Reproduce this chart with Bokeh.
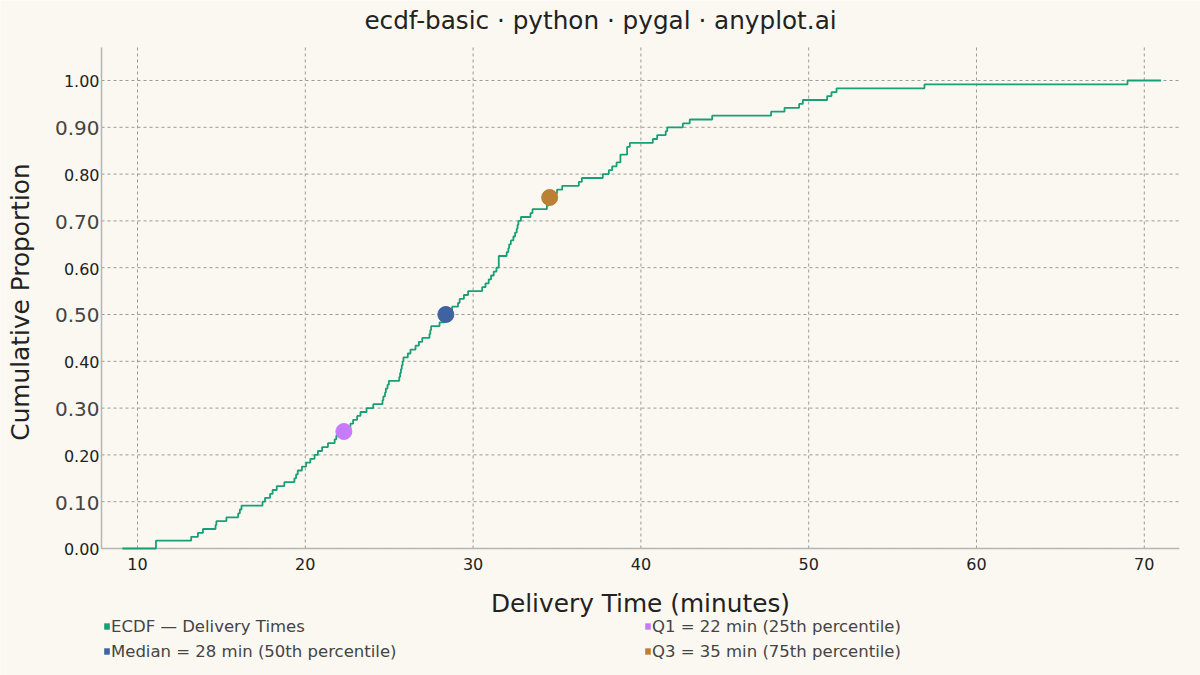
from bokeh.plotting import figure
from bokeh.models import Range1d, Legend, LegendItem
from bokeh.core.properties import value
from bokeh.embed import file_html
from bokeh.resources import INLINE
import numpy as np

# Delivery times in minutes (sorted)
delivery_times = [
    11.1, 11.1, 13.2, 13.6, 13.9, 14.65, 14.7, 15.3, 16.0, 16.1,
    16.2, 17.45, 17.6, 17.9, 18.05, 18.3, 18.75, 19.35, 19.45, 19.55,
    19.8, 20.05, 20.3, 20.55, 20.75, 21.0, 21.35, 21.75, 21.85, 22.15,
    22.35, 22.69, 22.85, 23.09, 23.29, 23.65, 24.05, 24.6, 24.65, 24.75,
    24.8, 24.9, 24.98, 25.6, 25.65, 25.7, 25.75, 25.8, 25.85, 26.11,
    26.27, 26.57, 26.77, 26.97, 27.4, 27.45, 27.5, 28.0, 28.3, 28.35,
    28.4, 28.75, 29.1, 29.2, 29.45, 29.7, 30.54, 30.74, 30.93, 31.07,
    31.23, 31.39, 31.53, 31.53, 31.53, 32.0, 32.1, 32.15, 32.25, 32.4,
    32.5, 32.6, 32.65, 32.7, 32.85, 33.42, 33.54, 34.4, 34.5, 34.55,
    34.6, 35.0, 35.31, 36.3, 36.48, 37.73, 38.09, 38.29, 38.55, 38.78,
    38.78, 39.18, 39.18, 39.34, 40.71, 40.97, 41.48, 41.57, 42.5, 42.91,
    44.25, 47.76, 48.56, 49.43, 49.65, 51.1, 51.36, 51.66, 56.9, 69.0,
]

x_ticks = [10, 20, 30, 40, 50, 60, 70]
x_tick_labels = ["10", "20", "30", "40", "50", "60", "70"]
y_ticks = [0.0, 0.1, 0.2, 0.3, 0.4, 0.5, 0.6, 0.7, 0.8, 0.9, 1.0]
y_tick_labels = ["0.00", "0.10", "0.20", "0.30", "0.40", "0.50",
                 "0.60", "0.70", "0.80", "0.90", "1.00"]
y_major = [False, True, False, True, False, True, False, True, False, True, False]

TITLE = "ecdf-basic · python · pygal · anyplot.ai"
X_LABEL = "Delivery Time (minutes)"
Y_LABEL = "Cumulative Proportion"

FONT = "DejaVu Sans"
BG = "#FAF8F1"
C_ECDF = "#17A077"
C_Q1 = "#C77BFB"
C_MED = "#3F62A1"
C_Q3 = "#BC8035"
GRID = "#9a9a9a"
AXIS = "#b5b5b5"
INK = "#222222"

# the frame covers the whole canvas; the pygal-like plot box sits inside it
X_LO, X_HI = 7.855, 72.09      # plot box in data units
Y_LO, Y_HI = 0.0, 1.0705

# ECDF step coordinates
data = np.sort(np.array(delivery_times))
n = len(data)
xs = np.concatenate([[data[0] - 2], data, [data[-1] + 2]])
ys = np.concatenate([[0.0], np.arange(1, n + 1) / n, [1.0]])

q1, med, q3 = np.percentile(data, [25, 50, 75])

x_range = Range1d(1.8355, 73.35)
y_range = Range1d(-0.27137, 1.17094)
p = figure(width=1200, height=675, output_backend="svg", toolbar_location=None,
           x_range=x_range, y_range=y_range, min_border=0)
p.background_fill_color = BG
p.border_fill_color = BG
p.outline_line_color = None
p.axis.visible = False
p.grid.visible = False

# grid lines
nx, ny = len(x_ticks), len(y_ticks)
p.segment(x0=x_ticks, x1=x_ticks, y0=[Y_LO] * nx, y1=[Y_HI] * nx,
          line_color=GRID, line_dash="3 3", line_width=1)
p.segment(x0=[X_LO] * ny, x1=[X_HI] * ny, y0=y_ticks, y1=y_ticks,
          line_color=GRID, line_dash="3 3", line_width=1)

# spines
p.segment(x0=[X_LO, X_LO], x1=[X_LO, X_HI], y0=[Y_LO, Y_LO], y1=[Y_HI, Y_LO],
          line_color=AXIS, line_width=1.5)

# tick labels
p.text(x=x_ticks, y=[Y_LO] * nx, text=x_tick_labels, y_offset=16,
       text_align="center", text_baseline="middle", text_font=value(FONT),
       text_font_size="16px", text_color=INK)
maj_y = [t for t, m in zip(y_ticks, y_major) if m]
maj_l = [l for l, m in zip(y_tick_labels, y_major) if m]
min_y = [t for t, m in zip(y_ticks, y_major) if not m]
min_l = [l for l, m in zip(y_tick_labels, y_major) if not m]
p.text(x=[X_LO] * len(maj_y), y=maj_y, text=maj_l, x_offset=-2, y_offset=1,
       text_align="right", text_baseline="middle", text_font=value(FONT),
       text_font_size="20px", text_color="#444444")
p.text(x=[X_LO] * len(min_y), y=min_y, text=min_l, x_offset=-2, y_offset=1,
       text_align="right", text_baseline="middle", text_font=value(FONT),
       text_font_size="16px", text_color=INK)

# titles
p.text(x=[(x_range.start + x_range.end) / 2], y=[Y_HI], text=[TITLE], y_offset=-27,
       text_align="center", text_baseline="middle", text_font=value(FONT),
       text_font_size="24.7px", text_color=INK)
p.text(x=[(X_LO + X_HI) / 2], y=[Y_LO], text=[X_LABEL], y_offset=55,
       text_align="center", text_baseline="middle", text_font=value(FONT),
       text_font_size="24.8px", text_color=INK)
p.text(x=[X_LO], y=[(Y_LO + Y_HI) / 2], text=[Y_LABEL], x_offset=-81, y_offset=4,
       angle=np.pi / 2, text_align="center", text_baseline="middle",
       text_font=value(FONT), text_font_size="24.8px", text_color=INK)

# ECDF line and quartile markers
p.step(xs, ys, mode="after", line_color=C_ECDF, line_width=1.8)
p.scatter([q1], [0.25], size=16, fill_color=C_Q1, line_color=C_Q1)
p.scatter([med], [0.5], size=16, fill_color=C_MED, line_color=C_MED)
p.scatter([q3], [0.75], size=16, fill_color=C_Q3, line_color=C_Q3)

# legend swatches: zero-size quads (invisible in the plot) so the legend shows squares
sw_ecdf = p.quad(left=[data[0]], right=[data[0]], top=[0.0], bottom=[0.0],
                 fill_color=C_ECDF, line_color=None)
sw_q1 = p.quad(left=[q1], right=[q1], top=[0.25], bottom=[0.25],
               fill_color=C_Q1, line_color=None)
sw_med = p.quad(left=[med], right=[med], top=[0.5], bottom=[0.5],
                fill_color=C_MED, line_color=None)
sw_q3 = p.quad(left=[q3], right=[q3], top=[0.75], bottom=[0.75],
               fill_color=C_Q3, line_color=None)
items = [
    LegendItem(label="ECDF — Delivery Times", renderers=[sw_ecdf]),
    LegendItem(label=f"Q1 = {q1:.0f} min (25th percentile)", renderers=[sw_q1]),
    LegendItem(label=f"Median = {med:.0f} min (50th percentile)", renderers=[sw_med]),
    LegendItem(label=f"Q3 = {q3:.0f} min (75th percentile)", renderers=[sw_q3]),
]
legend = Legend(items=items, location=(103, 14), orientation="horizontal", ncols=2,
                glyph_width=7, glyph_height=8, label_standoff=1, label_width=528,
                label_height=20, spacing=5, padding=0, margin=0,
                border_line_color=None, background_fill_alpha=0,
                label_text_font=FONT, label_text_font_size="16.5px",
                label_text_color="#444444")
p.add_layout(legend)

open("out.html", "w").write(file_html(p, INLINE))
